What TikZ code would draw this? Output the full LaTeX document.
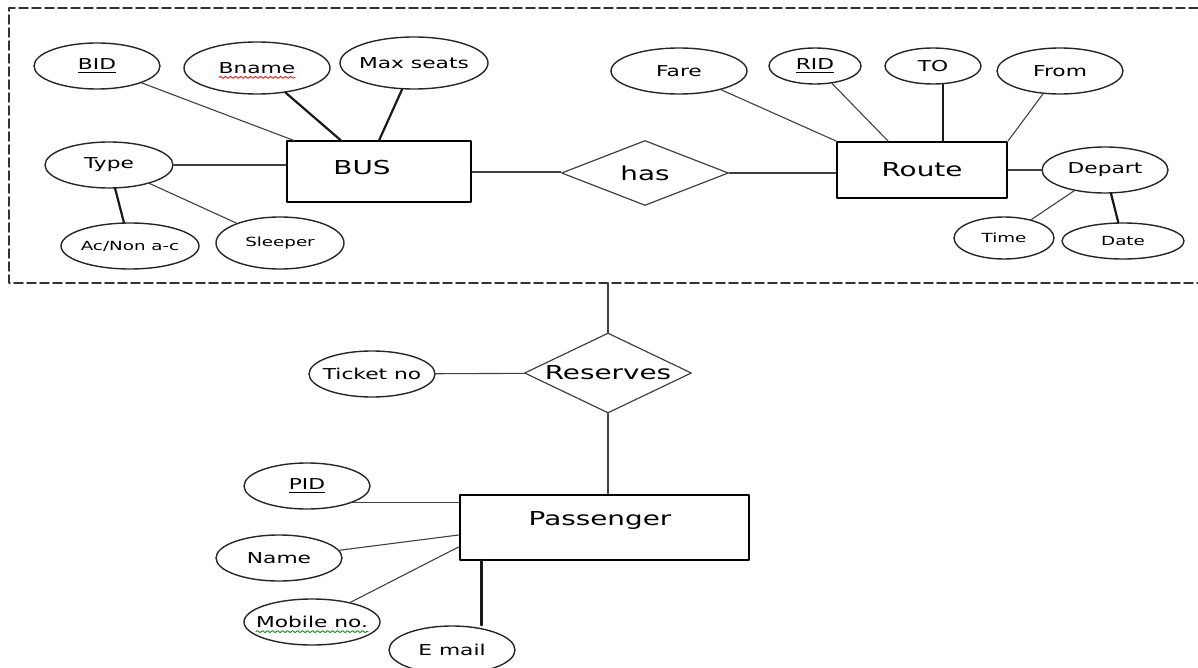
\documentclass[tikz,border=0pt]{standalone}
\usepackage{fontspec}
\setmainfont{DejaVu Sans}[FakeStretch=1.45]
\usetikzlibrary{shapes.geometric,decorations.pathmorphing}

\begin{document}
\begin{tikzpicture}[line cap=round,line join=round,x=0.5pt,y=-0.5pt,
  attr/.style={ellipse,draw=black!85,line width=0.7pt,inner xsep=-8pt,inner ysep=0pt,font=\fontsize{7.5}{9}\selectfont},
  smallattr/.style={attr,font=\fontsize{6.3}{8}\selectfont},
  entity/.style={rectangle,draw,line width=1pt,inner sep=0pt,font=\fontsize{9.6}{11}\selectfont},
  rel/.style={diamond,draw=black!75,line width=0.6pt,inner sep=0pt,font=\fontsize{9.6}{11}\selectfont},
  conn/.style={draw=black!75,line width=0.55pt},
  boldconn/.style={draw=black!90,line width=1.1pt},
  boxline/.style={draw=black!80,line width=0.8pt,dash pattern=on 4.5pt off 2pt},
  spell/.style={decorate,decoration={snake,amplitude=0.5pt,segment length=2.5pt},line width=0.4pt}]
\useasboundingbox (0,0) rectangle (1198,668);
\clip (0,0) rectangle (1198,668);
% dashed group round BUS and Route
\draw[boxline] (1198,8) -- (9,8) -- (9,283) -- (1198,283);
\coordinate (boxgap) at (608,283);
% entities and relationships
\node[entity,minimum width=92pt,minimum height=30.5pt,label={[xshift=-8.5pt,yshift=2pt,font=\fontsize{9.6}{11}\selectfont]center:BUS}] (bus) at (379,172) {};
\node[entity,minimum width=85pt,minimum height=28pt] (route) at (922,170) {Route};
\node[entity,minimum width=144.5pt,minimum height=32.5pt,label={[xshift=-2pt,yshift=3.5pt,font=\fontsize{9.6}{11}\selectfont]center:Passenger}] (passenger) at (604,527) {};
\node[rel,minimum width=83.5pt,minimum height=32.5pt,aspect=2.57] (has) at (645,173) {has};
\node[rel,minimum width=83.5pt,minimum height=40pt,aspect=2.09] (reserves) at (608,373) {Reserves};
% attributes of BUS
\node[attr,minimum width=63pt,minimum height=23pt] (bid) at (97,66) {\underline{BID}};
\node[attr,minimum width=73pt,minimum height=26pt] (bname) at (257,68) {Bname};
\node[attr,minimum width=74pt,minimum height=26pt] (maxseats) at (414,63) {Max seats};
\node[attr,minimum width=64pt,minimum height=23pt] (type) at (109,165) {Type};
\node[smallattr,minimum width=69pt,minimum height=23pt] (acnon) at (130,246) {Ac/Non a-c};
\node[smallattr,minimum width=64pt,minimum height=26pt] (sleeper) at (280,243) {Sleeper};
% attributes of Route
\node[attr,minimum width=68pt,minimum height=23pt] (fare) at (679,71) {Fare};
\node[attr,minimum width=46pt,minimum height=18pt] (rid) at (815,66) {\underline{RID}};
\node[attr,minimum width=48pt,minimum height=18pt] (to) at (933,66) {TO};
\node[attr,minimum width=63pt,minimum height=23pt] (from) at (1060,71) {From};
\node[attr,minimum width=63pt,minimum height=23pt] (depart) at (1105,170) {Depart};
\node[smallattr,minimum width=50pt,minimum height=21pt] (time) at (1004,238) {Time};
\node[smallattr,minimum width=61pt,minimum height=18pt] (date) at (1123,241) {Date};
% attributes of Reserves and Passenger
\node[attr,minimum width=63pt,minimum height=23pt] (ticket) at (372,374) {Ticket no};
\node[attr,minimum width=63pt,minimum height=23pt] (pid) at (307,486) {\underline{PID}};
\node[attr,minimum width=63pt,minimum height=23pt] (name) at (279,558) {Name};
\node[attr,minimum width=68pt,minimum height=23pt] (mobile) at (312,622) {Mobile no.};
\node[attr,minimum width=63pt,minimum height=24pt] (email) at (452,650) {E mail};
% spell check marks
\draw[spell,red] ([xshift=-19pt,yshift=-2pt]bname.base) -- ([xshift=19pt,yshift=-2pt]bname.base);
\draw[spell,green!55!black] ([xshift=-28pt,yshift=-2pt]mobile.base) -- ([xshift=28pt,yshift=-2pt]mobile.base);
% connectors
\draw[conn] (bid) -- ([xshift=4pt]bus.north west);
\draw[boldconn] (bname) -- ([xshift=-19pt]bus.north);
\draw[boldconn] (maxseats) -- (bus.north);
\draw[conn] (type) -- (type -| bus.west);
\draw[boldconn] (type) -- (acnon);
\draw[conn] (type) -- (sleeper);
\draw[conn] (bus) -- (bus -| has.west);
\draw[conn] (has) -- (has -| route.west);
\draw[conn] (fare) -- (route.north west);
\draw[conn] (rid) -- ([xshift=-17pt]route.north);
\draw[boldconn] ([xshift=5pt]to.south) -- ([xshift=5pt]to.south |- route.north);
\draw[conn] (from) -- (route.north east);
\draw[conn] (route) -- (depart);
\draw[conn] (depart) -- (time);
\draw[boldconn] (depart) -- (date);
\draw[conn] (boxgap) -- (reserves);
\draw[conn] (ticket) -- (reserves);
\draw[conn] (reserves) -- (reserves |- passenger.north);
\draw[conn] (pid.south east) -- (pid.south east -| passenger.west);
\draw[conn] (name) -- ([yshift=-4pt]passenger.west);
\draw[conn] (mobile) -- ([yshift=-10pt]passenger.west);
\draw[boldconn] ([xshift=11.5pt]passenger.south west) -- ([xshift=11.5pt]passenger.south west |- email.north);
\end{tikzpicture}
\end{document}
